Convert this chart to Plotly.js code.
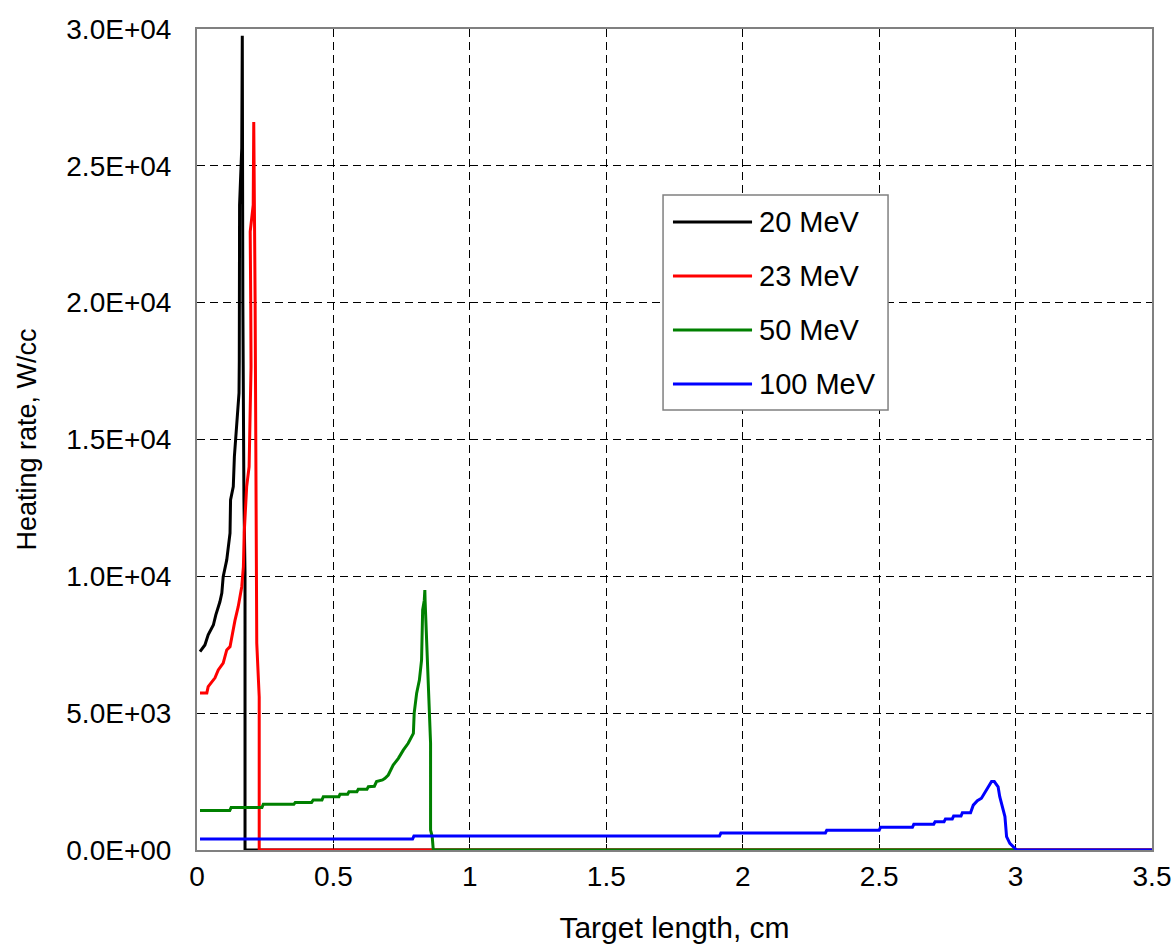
<!DOCTYPE html>
<html>
<head>
<meta charset="utf-8">
<script src="https://cdn.plot.ly/plotly-3.0.1.min.js"></script>
<style>
  html, body { margin: 0; padding: 0; background: #ffffff; }
  #chart { width: 1175px; height: 944px; }
</style>
</head>
<body>
<div id="chart"></div>
<script>
// ---- Data ----
const seriesNames = ["20 MeV", "23 MeV", "50 MeV", "100 MeV"];
const seriesColors = ["#000000", "#FF0000", "#008000", "#0000FF"];

const x20 = [0.011,0.029,0.041,0.060,0.069,0.084,0.091,0.096,0.109,0.121,0.123,0.133,0.137,0.145,0.154,0.155,0.156,0.156,0.164,0.166,0.168,0.169,0.172,0.176,0.176,3.5];
const y20 = [7250,7490,7860,8220,8590,9070,9390,9990,10600,11580,12790,13280,14370,15470,16700,17900,20100,23570,25650,29750,20100,16450,12800,10100,0,0];

const x23 = [0.011,0.036,0.041,0.066,0.078,0.096,0.109,0.121,0.139,0.151,0.164,0.170,0.173,0.176,0.182,0.191,0.194,0.198,0.197,0.195,0.206,0.208,0.213,0.217,0.219,0.228,0.228,3.5];
const y23 = [5740,5740,5970,6290,6580,6830,7310,7430,8380,8890,9620,10350,11580,12310,13280,14010,15240,17660,19910,22600,23570,26600,20100,10600,7560,5590,0,0];

const x50 = [0.011,0.120,0.125,0.238,0.243,0.355,0.360,0.420,0.426,0.458,0.463,0.520,0.524,0.552,0.557,0.586,0.591,0.623,0.628,0.650,0.658,0.680,0.689,0.701,0.719,0.738,0.756,0.774,0.793,0.796,0.805,0.815,0.823,0.827,0.833,0.835,0.836,0.842,0.851,0.856,0.856,0.862,0.866,3.0];
const y50 = [1440,1440,1550,1550,1670,1670,1740,1740,1830,1830,1950,1950,2035,2035,2130,2130,2220,2220,2310,2330,2500,2560,2620,2740,3100,3350,3650,3900,4260,5000,5730,6210,6940,8770,9130,9500,9100,7300,5000,3900,730,490,0,0];

const x100 = [0.011,0.790,0.795,1.915,1.920,2.303,2.308,2.500,2.505,2.622,2.627,2.700,2.705,2.738,2.743,2.768,2.773,2.800,2.805,2.835,2.845,2.860,2.875,2.906,2.912,2.922,2.936,2.942,2.961,2.967,2.979,3.004,3.5];
const y100 = [400,400,510,510,620,620,720,720,830,830,940,940,1035,1035,1135,1135,1240,1240,1365,1365,1640,1800,1890,2440,2500,2500,2310,1950,1220,490,245,0,0];

const yTickVals = [0, 5000, 10000, 15000, 20000, 25000, 30000];
const yTickText = ["0.0E+00", "5.0E+03", "1.0E+04", "1.5E+04", "2.0E+04", "2.5E+04", "3.0E+04"];
const xTickVals = [0, 0.5, 1, 1.5, 2, 2.5, 3, 3.5];
const xTickText = ["0", "0.5", "1", "1.5", "2", "2.5", "3", "3.5"];

const xs = [x20, x23, x50, x100];
const ys = [y20, y23, y50, y100];

// ---- Traces ----
const traces = xs.map((x, i) => ({
  type: "scatter",
  mode: "lines",
  name: seriesNames[i],
  x: x,
  y: ys[i],
  line: { color: seriesColors[i], width: 3 },
  showlegend: false,
  hoverinfo: "skip"
}));

// ---- Custom legend box (paper coordinates) ----
const FONT = "'Liberation Sans', Arial, 'Helvetica Neue', sans-serif";
const legBox = { x0: 0.488, x1: 0.7236, y0: 0.536, y1: 0.7978 };
const legRowY = [0.7649, 0.6991, 0.6334, 0.5676];
const legLineX = [0.4984, 0.5812];
const legTextX = 0.5864;

const shapes = [{
  type: "rect", xref: "paper", yref: "paper",
  x0: legBox.x0, x1: legBox.x1, y0: legBox.y0, y1: legBox.y1,
  line: { color: "#808080", width: 1.5 }, fillcolor: "#ffffff", layer: "above"
}];
const annotations = [];
seriesNames.forEach((n, i) => {
  shapes.push({
    type: "line", xref: "paper", yref: "paper",
    x0: legLineX[0], x1: legLineX[1], y0: legRowY[i], y1: legRowY[i],
    line: { color: seriesColors[i], width: 3 }, layer: "above"
  });
  annotations.push({
    xref: "paper", yref: "paper", x: legTextX, y: legRowY[i],
    xanchor: "left", yanchor: "middle", showarrow: false,
    text: n, font: { family: FONT, size: 29, color: "#000000" }
  });
});

const layout = {
  width: 1175, height: 944,
  margin: { l: 197, r: 23, t: 29, b: 94, pad: 0 },
  paper_bgcolor: "#ffffff", plot_bgcolor: "#ffffff",
  font: { family: FONT, color: "#000000" },
  showlegend: false,
  xaxis: {
    range: [0, 3.5], tickvals: xTickVals, ticktext: xTickText,
    showgrid: true, gridcolor: "#000000", griddash: "8px,5px", gridwidth: 1,
    zeroline: false,
    showline: true, linecolor: "#808080", linewidth: 2, mirror: true,
    ticks: "inside", ticklen: 6, tickcolor: "#000000", tickwidth: 1,
    tickfont: { family: FONT, size: 28, color: "#000000" },
    title: { text: "Target length, cm", font: { family: FONT, size: 30, color: "#000000" }, standoff: 36 },
    layer: "below traces"
  },
  yaxis: {
    range: [0, 30000], tickvals: yTickVals, ticktext: yTickText,
    showgrid: true, gridcolor: "#000000", griddash: "8px,5px", gridwidth: 1,
    zeroline: false,
    showline: true, linecolor: "#808080", linewidth: 2, mirror: true,
    ticks: "inside", ticklen: 6, tickcolor: "#000000", tickwidth: 1,
    tickfont: { family: FONT, size: 28, color: "#000000" },
    ticklabelstandoff: 18,
    title: { text: "Heating rate, W/cc", font: { family: FONT, size: 27, color: "#000000" }, standoff: 22 },
    layer: "below traces"
  },
  shapes: shapes,
  annotations: annotations
};

Plotly.newPlot("chart", traces, layout, { displayModeBar: false, staticPlot: true });
</script>
</body>
</html>
